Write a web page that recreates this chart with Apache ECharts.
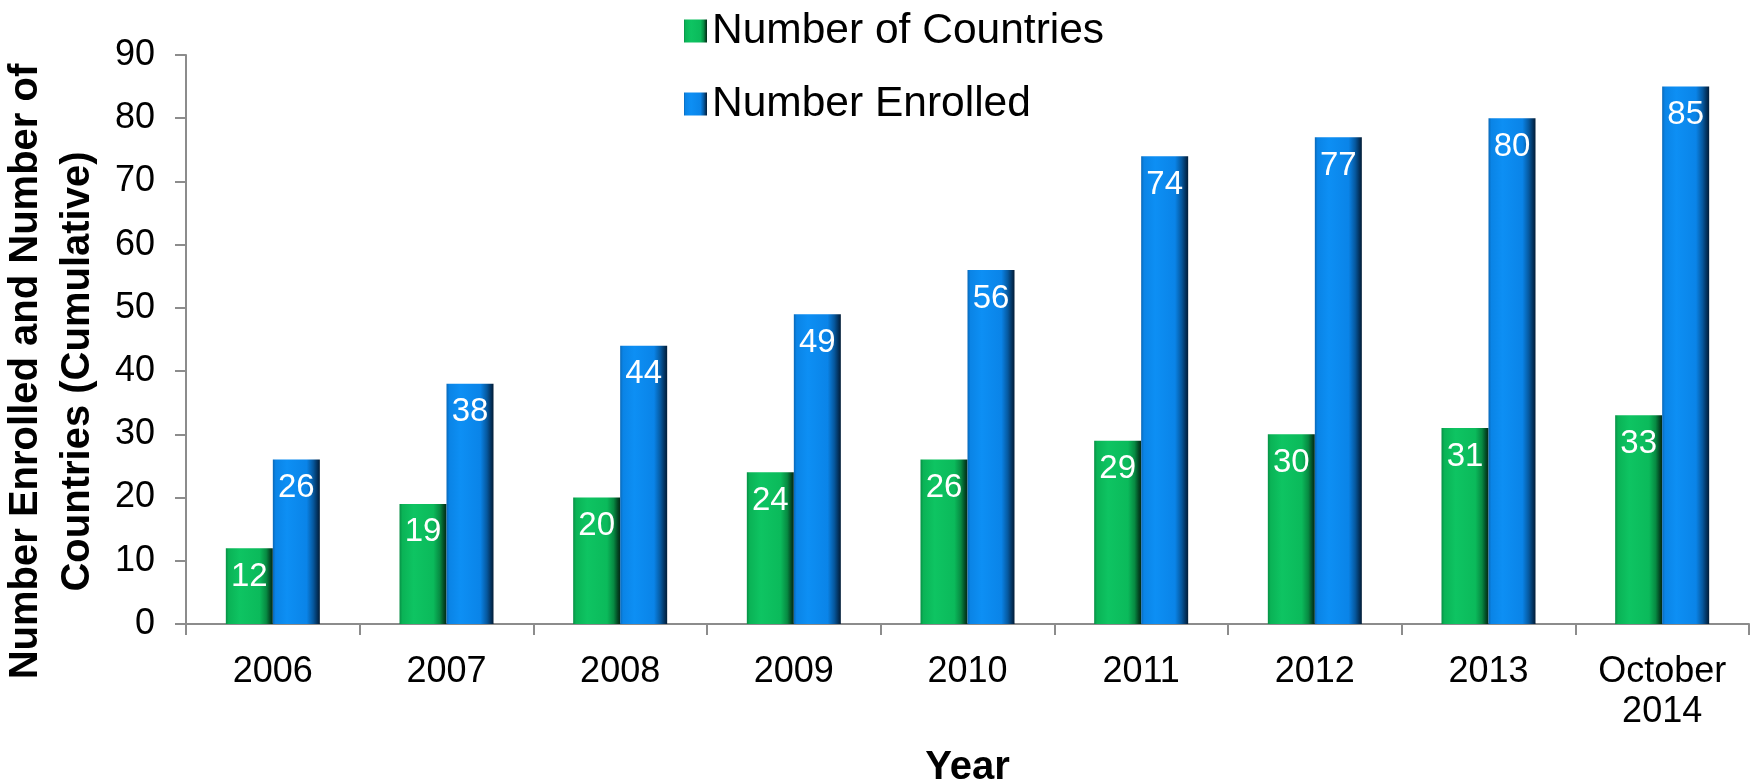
<!DOCTYPE html>
<html>
<head>
<meta charset="utf-8">
<script src="https://cdn.jsdelivr.net/npm/echarts@6/dist/echarts.min.js"></script>
<style>
  html, body { margin: 0; padding: 0; background: #fff; }
  #chart { width: 1756px; height: 783px; }
</style>
</head>
<body>
<div id="chart"></div>
<script>
// Cumulative enrolment and country count by year
const years = ['2006', '2007', '2008', '2009', '2010', '2011', '2012', '2013', 'October\n2014'];
const countries = [12, 19, 20, 24, 26, 29, 30, 31, 33];
const enrolled = [26, 38, 44, 49, 56, 74, 77, 80, 85];
const yTicks = { min: 0, max: 90, interval: 10 };

const FONT = '"Liberation Sans", Arial, Helvetica, sans-serif';
const BAR_W = 47;
const BEVEL = 8;

// Side-lit bar fill: bright face, dark right edge
function sideLit(stops) {
  return new echarts.graphic.LinearGradient(0, 0, 1, 0,
    stops.map(function (s) { return { offset: s[0], color: s[1] }; }));
}
const greenFill = sideLit([
  [0, '#078F45'], [0.06, '#0AB356'], [0.3, '#0EC462'], [0.72, '#0BBA5B'],
  [0.86, '#078A42'], [0.95, '#034522'], [1, '#022A15']
]);
const blueFill = sideLit([
  [0, '#0968B8'], [0.06, '#0A84E6'], [0.3, '#0D8FF4'], [0.72, '#0A84E8'],
  [0.86, '#06589E'], [0.95, '#03305A'], [1, '#021C36']
]);

const barLabel = {
  show: true,
  position: 'insideTop',
  distance: 12,
  color: '#ffffff',
  fontFamily: FONT,
  fontSize: 33
};

// Bevelled caps drawn over each bar: light top edge, shaded bottom edge
function bevels(values, side) {
  return {
    type: 'custom',
    silent: true,
    z: 2,
    data: values.map(function (v, i) { return [i, v]; }),
    renderItem: function (params, api) {
      const top = api.coord([api.value(0), api.value(1)]);
      const base = api.coord([api.value(0), 0]);
      const x0 = side < 0 ? top[0] - BAR_W : top[0];
      const x1 = x0 + BAR_W;
      const yt = top[1], yb = base[1];
      return {
        type: 'group',
        children: [
          {
            type: 'polygon',
            shape: { points: [[x0, yt], [x1, yt], [x1 - BEVEL, yt + BEVEL], [x0 + BEVEL, yt + BEVEL]] },
            style: { fill: 'rgba(255,255,255,0.3)' }
          },
          {
            type: 'polygon',
            shape: { points: [[x0, yb], [x1, yb], [x1 - BEVEL, yb - BEVEL], [x0 + BEVEL, yb - BEVEL]] },
            style: { fill: 'rgba(0,0,0,0.25)' }
          }
        ]
      };
    }
  };
}

const chart = echarts.init(document.getElementById('chart'), null, { renderer: 'canvas' });
chart.setOption({
  animation: false,
  backgroundColor: '#ffffff',
  grid: { left: 186, right: 7, top: 55, bottom: 159, containLabel: false, outerBoundsMode: 'none' },
  legend: {
    orient: 'vertical',
    left: 679,
    top: 4,
    itemWidth: 23,
    itemHeight: 23,
    itemGap: 29,
    icon: 'rect',
    textStyle: {
      fontFamily: FONT,
      fontSize: 42.5,
      lineHeight: 44,
      color: '#000'
    },
    data: ['Number of Countries', 'Number Enrolled']
  },
  xAxis: {
    type: 'category',
    data: years,
    name: 'Year',
    nameLocation: 'middle',
    nameGap: 124,
    nameTextStyle: { fontFamily: FONT, fontSize: 40, fontWeight: 'bold', color: '#000' },
    axisLine: { lineStyle: { color: '#8c8c8c', width: 2 } },
    axisTick: { show: true, length: 11, lineStyle: { color: '#8c8c8c', width: 2 } },
    axisLabel: {
      fontFamily: FONT, fontSize: 36, lineHeight: 40, color: '#000',
      margin: 28, interval: 0
    }
  },
  yAxis: {
    type: 'value',
    min: yTicks.min,
    max: yTicks.max,
    interval: yTicks.interval,
    name: 'Number Enrolled and Number of\nCountries (Cumulative)',
    nameLocation: 'middle',
    nameRotate: 90,
    nameGap: 70,
    nameTextStyle: {
      fontFamily: FONT, fontSize: 40, fontWeight: 'bold', color: '#000',
      lineHeight: 52, padding: [0, 64, 0, 0]
    },
    axisLine: { show: true, lineStyle: { color: '#8c8c8c', width: 2 } },
    axisTick: { show: true, length: 11, lineStyle: { color: '#8c8c8c', width: 2 } },
    axisLabel: { fontFamily: FONT, fontSize: 36, color: '#000', margin: 31 },
    splitLine: { show: false }
  },
  series: [
    {
      name: 'Number of Countries',
      type: 'bar',
      data: countries,
      barWidth: BAR_W,
      barGap: '0%',
      itemStyle: { color: greenFill },
      label: barLabel
    },
    {
      name: 'Number Enrolled',
      type: 'bar',
      data: enrolled,
      barWidth: BAR_W,
      barGap: '0%',
      itemStyle: { color: blueFill },
      label: barLabel
    },
    bevels(countries, -1),
    bevels(enrolled, 1)
  ]
});
</script>
</body>
</html>
